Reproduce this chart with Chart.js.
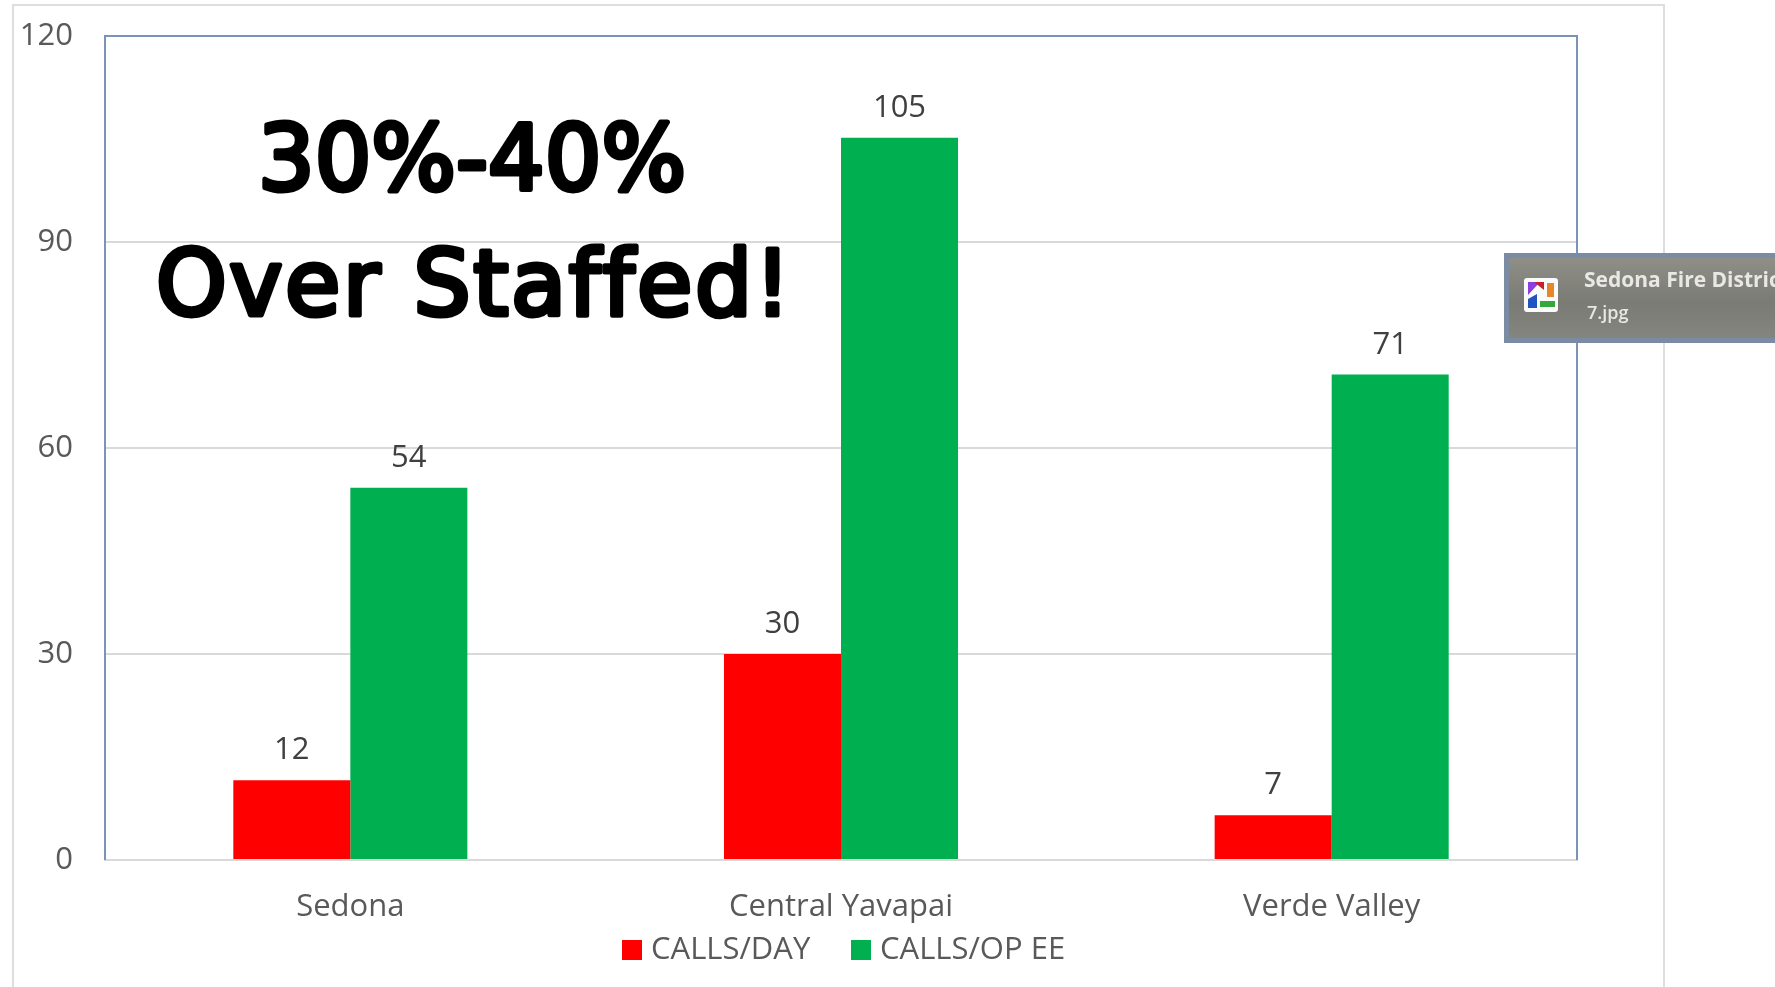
<!DOCTYPE html>
<html>
<head>
<meta charset="utf-8">
<title>Calls per day</title>
<script src="https://cdn.jsdelivr.net/npm/chart.js@4"></script>
<style>
    html, body { margin: 0; padding: 0; background: #fff; overflow: hidden; }
    #wrap { position: relative; width: 1775px; height: 987px; }
    #frame { position: absolute; left: 12px; top: 4px; width: 1653px; height: 990px; border: 2px solid #dedede; box-sizing: border-box; }
    canvas { position: absolute; left: 0; top: 0; }
    #popup {
        position: absolute; left: 1504px; top: 253px; width: 271px; height: 90px; box-sizing: border-box;
        border: 5px solid #7a8ba3; border-right: 0; overflow: hidden; white-space: nowrap;
        background: linear-gradient(#8f8f88, #7b7b75 55%, #85857f);
        font-family: "Open Sans", sans-serif; color: #e8e8e4;
    }
    #popup svg { position: absolute; left: 15px; top: 20px; }
    #popup .name { position: absolute; left: 75px; top: 7px; font-size: 21px; font-weight: 700; filter: blur(0.5px); }
    #popup .file { position: absolute; left: 78px; top: 42px; font-size: 18px; font-weight: 600; filter: blur(0.5px); }
</style>
</head>
<body>
<div id="wrap">
    <div id="frame"></div>
    <canvas id="chart" width="1775" height="987"></canvas>
    <div id="popup">
        <svg width="34" height="34" viewBox="0 0 34 34">
            <rect width="34" height="34" rx="3" fill="#fbfbfb"/>
            <polygon points="4,4 16,4 4,17" fill="#8b3fe0"/>
            <polygon points="10,4 20,4 20,12" fill="#c8202a"/>
            <rect x="23" y="5" width="7" height="14" fill="#e8862a"/>
            <polygon points="4,30 4,21 13,16 13,30" fill="#1f55c0"/>
            <rect x="16" y="23" width="15" height="6" fill="#34a83a"/>
        </svg>
        <div class="name">Sedona Fire District</div>
        <div class="file">7.jpg</div>
    </div>
</div>
<script>
const categories = ['Sedona', 'Central Yavapai', 'Verde Valley'];
// bar heights; the printed labels are these rounded
const callsPerDay = [11.6, 30, 6.5];
const callsPerOpEe = [54.2, 105.2, 70.7];
const yTicks = [0, 30, 60, 90, 120];
const noteLines = ['30%-40%', 'Over Staffed!'];

const textColor = '#595959';
const labelFont = '"Open Sans", sans-serif';

// Value labels above the bars
const barLabels = {
    id: 'barLabels',
    afterDatasetsDraw(chart) {
        const ctx = chart.ctx;
        ctx.save();
        ctx.font = '31px ' + labelFont;
        ctx.fillStyle = '#404040';
        ctx.textAlign = 'center';
        ctx.textBaseline = 'alphabetic';
        chart.data.datasets.forEach((ds, i) => {
            chart.getDatasetMeta(i).data.forEach((bar, j) => {
                ctx.fillText(Math.round(ds.data[j]), bar.x, bar.y - 21);
            });
        });
        ctx.restore();
    }
};

// Legend sits off-centre in the reference, so it is drawn here from the datasets
const sideLegend = {
    id: 'sideLegend',
    afterDraw(chart) {
        const ctx = chart.ctx;
        const swatchX = [622, 851];
        ctx.save();
        ctx.font = '31px ' + labelFont;
        ctx.textAlign = 'left';
        ctx.textBaseline = 'alphabetic';
        chart.data.datasets.forEach((ds, i) => {
            ctx.fillStyle = ds.backgroundColor;
            ctx.fillRect(swatchX[i], 940, 20, 20);
            ctx.fillStyle = textColor;
            ctx.fillText(ds.label, swatchX[i] + 29, 959);
        });
        ctx.restore();
    }
};

// Blue box round the plot area, and the big note on top of it
const plotBox = {
    id: 'plotBox',
    afterDraw(chart) {
        const ctx = chart.ctx;
        const a = chart.chartArea;
        ctx.save();
        ctx.strokeStyle = '#7c93b8';
        ctx.lineWidth = 2;
        ctx.beginPath();
        ctx.moveTo(a.left, a.bottom);
        ctx.lineTo(a.left, a.top);
        ctx.lineTo(a.right, a.top);
        ctx.lineTo(a.right, a.bottom);
        ctx.stroke();

        // regular weight plus a round stroke gives the marker-pen look
        ctx.fillStyle = '#000';
        ctx.strokeStyle = '#000';
        ctx.lineWidth = 5;
        ctx.lineJoin = 'round';
        ctx.lineCap = 'round';
        ctx.font = '90px "DejaVu Sans", sans-serif';
        ctx.textAlign = 'left';
        ctx.textBaseline = 'alphabetic';
        ctx.fillText(noteLines[0], 258, 190, 428);
        ctx.strokeText(noteLines[0], 258, 190, 428);
        ctx.letterSpacing = '2.5px';
        ctx.fillText(noteLines[1], 156, 315);
        ctx.strokeText(noteLines[1], 156, 315);
        ctx.restore();
    }
};

new Chart(document.getElementById('chart').getContext('2d'), {
    type: 'bar',
    data: {
        labels: categories,
        datasets: [
            { label: 'CALLS/DAY', data: callsPerDay, backgroundColor: '#ff0000' },
            { label: 'CALLS/OP EE', data: callsPerOpEe, backgroundColor: '#00b050' }
        ]
    },
    options: {
        responsive: false,
        animation: false,
        layout: { padding: { left: 0, right: 198, top: 36, bottom: 61 }, autoPadding: false },
        datasets: { bar: { barPercentage: 1, categoryPercentage: 0.477 } },
        plugins: {
            legend: { display: false },
            tooltip: { enabled: false }
        },
        scales: {
            x: {
                grid: { display: false },
                border: { color: '#d9d9d9', width: 2 },
                ticks: { color: textColor, font: { family: labelFont, size: 31 }, padding: 21 },
                afterFit(axis) { axis.height = 66; }
            },
            y: {
                min: 0,
                max: 120,
                afterBuildTicks(axis) { axis.ticks = yTicks.map(v => ({ value: v })); },
                grid: { color: '#d9d9d9', lineWidth: 2, drawTicks: false },
                border: { display: false },
                ticks: { color: textColor, font: { family: labelFont, size: 31 }, padding: 32 },
                afterFit(axis) {
                    axis.width = 105;
                    // top label hangs over the plot edge, so no room is kept for it
                    axis.paddingTop = 0;
                    axis.paddingBottom = 0;
                }
            }
        }
    },
    plugins: [barLabels, sideLegend, plotBox]
});
</script>
</body>
</html>
